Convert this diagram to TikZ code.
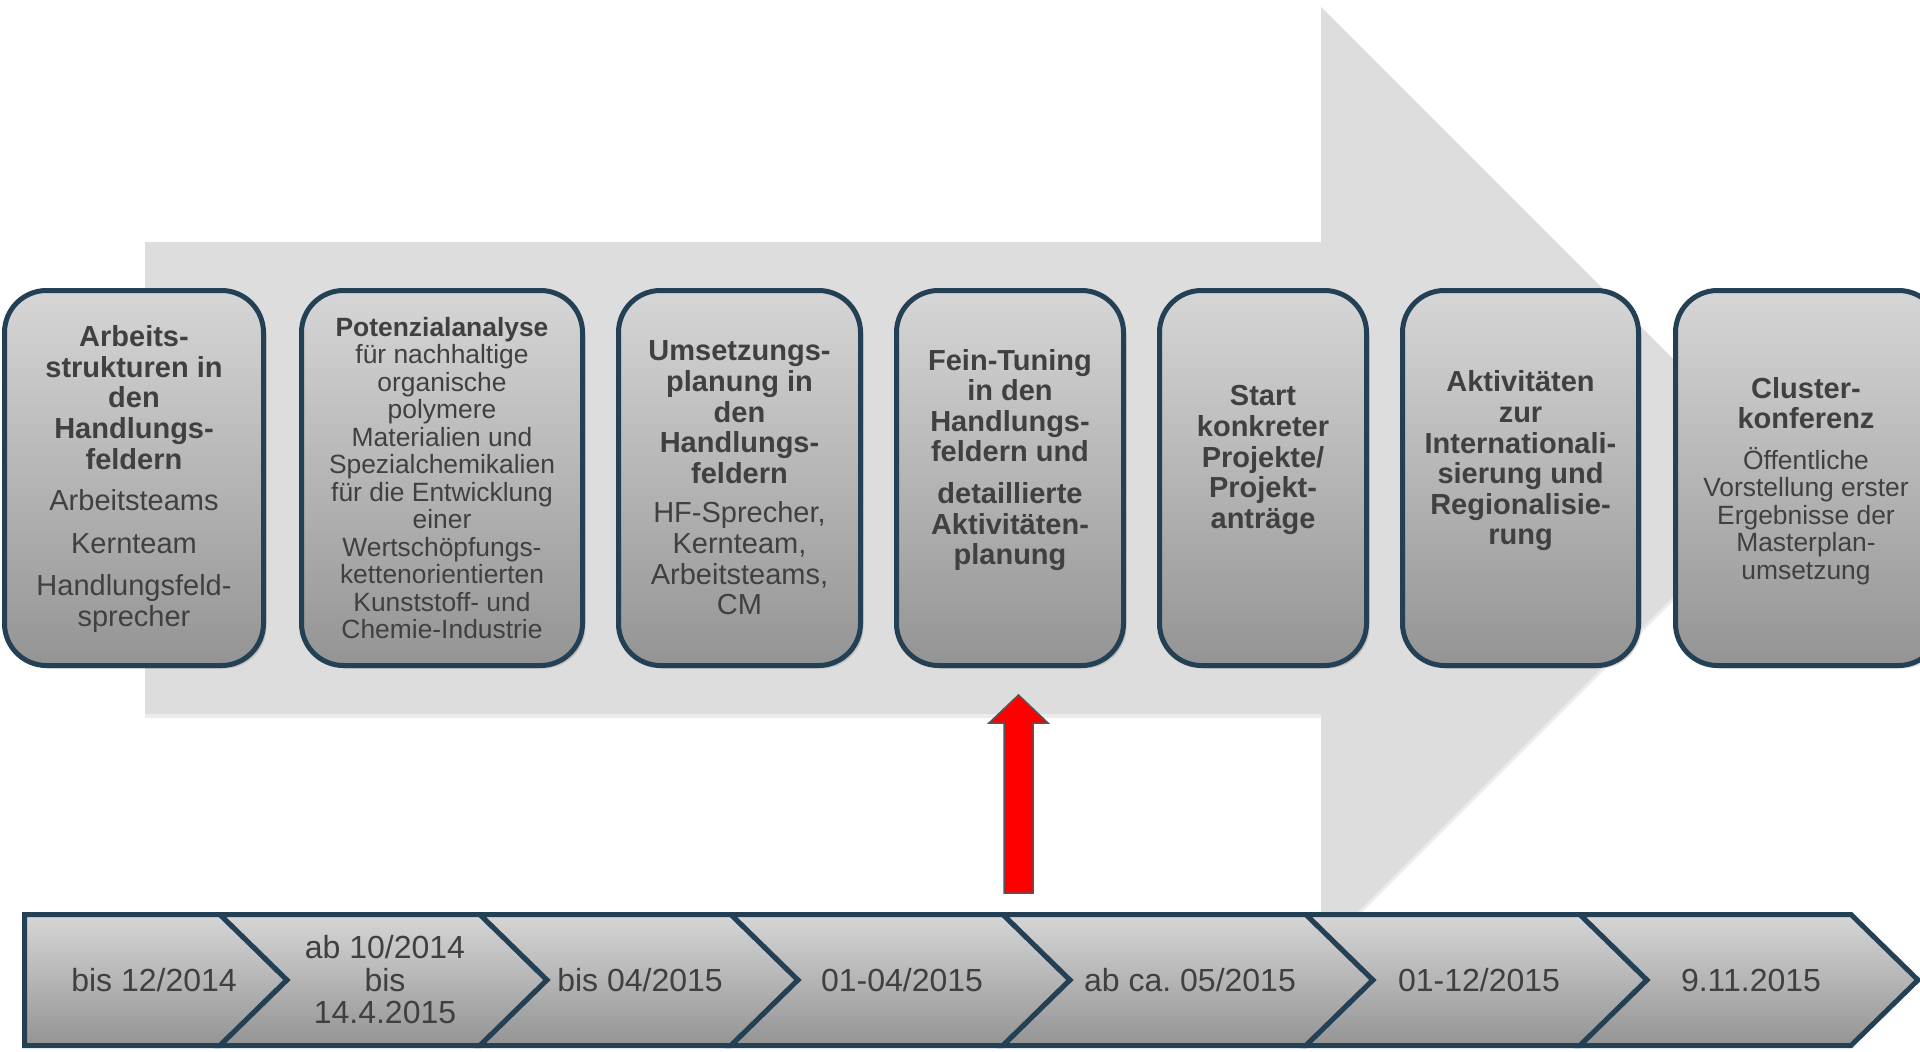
\documentclass[tikz,border=0pt]{standalone}
\usepackage{fontspec}
\setmainfont{Liberation Sans}
\usetikzlibrary{shadows}
\setlength\parindent{0pt}
\frenchspacing
\definecolor{arrowgray}{RGB}{221,221,221}
\definecolor{edgeblue}{RGB}{36,64,84}
\definecolor{txtgray}{RGB}{64,64,64}
\definecolor{gtop}{RGB}{214,214,214}
\definecolor{gbot}{RGB}{148,148,148}
\definecolor{redge}{RGB}{85,85,85}
\newcommand\phB{\fontsize{29}{30.6}\selectfont\bfseries\spaceskip=0pt\xspaceskip=0pt\relax}
\newcommand\phR{\fontsize{29}{30.6}\selectfont\mdseries\spaceskip=0pt\xspaceskip=0pt\relax}
\newcommand\phSR{\fontsize{26.4}{27.5}\selectfont\mdseries\spaceskip=0pt\xspaceskip=0pt\relax}
\newcommand\phSB{\fontsize{26.4}{27.5}\selectfont\bfseries\spaceskip=0pt\xspaceskip=0pt\relax}
\newcommand\tlR{\fontsize{32}{32.5}\selectfont}
\begin{document}
\begin{tikzpicture}[x=1pt,y=-1pt,
  phase/.style={draw=edgeblue, line width=5pt, rounded corners=42pt,
    top color=gtop, bottom color=gbot, minimum height=375pt, inner sep=0pt,
    drop shadow={shadow xshift=3pt, shadow yshift=-3pt, opacity=0.3}},
  ptext/.style={text=txtgray, align=flush center, inner sep=0pt, text width=250pt},
  seg/.style={draw=edgeblue, line width=5pt, top color=gtop, bottom color=gbot},
  ttext/.style={text=txtgray, align=center, inner sep=0pt, font=\tlR},
]
\useasboundingbox (0,0) rectangle (1920,1052);

% big background arrow
\path[fill=arrowgray, drop shadow={shadow xshift=0pt, shadow yshift=-4pt, opacity=0.15}]
  (145,242) -- (1321,242) -- (1321,7) -- (1792,478) -- (1321,949) -- (1321,714) -- (145,714) -- cycle;

% phase boxes
\node[phase, minimum width=259pt] (b1) at (134,478) {};
\node[phase, minimum width=281pt] (b2) at (442,478) {};
\node[phase, minimum width=242pt] (b3) at (739.5,478) {};
\node[phase, minimum width=227pt] (b4) at (1010,478) {};
\node[phase, minimum width=207pt] (b5) at (1263,478) {};
\node[phase, minimum width=236pt] (b6) at (1520.5,478) {};
\node[phase, minimum width=265pt] (b7) at (1808,478) {};

\node[ptext] (t1) at (134,479) {\phB Arbeits-\\strukturen in\\den\\Handlungs-\\feldern\par\vspace{11pt}\phR Arbeitsteams\\[12pt]Kernteam\\[12pt]Handlungsfeld-\\sprecher\par};
\node[ptext] (t2) at (442,478) {\phSB Potenzialanalyse\par\phSR für nachhaltige\\organische\\polymere\\Materialien und\\Spezialchemikalien\\für die Entwicklung\\einer\\Wertschöpfungs-\\kettenorientierten\\Kunststoff- und\\Chemie-Industrie\par};
\node[ptext] (t3) at (739.5,478) {\phB Umsetzungs-\\planung in\\den\\Handlungs-\\feldern\par\vspace{9pt}\phR HF-Sprecher,\\Kernteam,\\Arbeitsteams,\\CM\par};
\node[ptext] (t4) at (1010,460) {\phB Fein-Tuning\\in den\\Handlungs-\\feldern und\\[11pt]detaillierte\\Aktivitäten-\\planung\par};
\node[ptext] (t5) at (1263,460) {\phB Start\\konkreter\\Projekte/\\Projekt-\\anträge\par};
\node[ptext] (t6) at (1520.5,461) {\phB Aktivitäten\\zur\\Internationali-\\sierung und\\Regionalisie-\\rung\par};
\node[ptext] (t7) at (1806,481) {\phB Cluster-\\konferenz\par\vspace{13pt}\phSR Öffentliche\\Vorstellung erster\\Ergebnisse der\\Masterplan-\\umsetzung\par};

% red arrow
\draw[draw=redge, line width=1.5pt, fill=red]
  (1004,893) -- (1004,723) -- (989,723) -- (1018.5,695) -- (1048,723) -- (1033,723) -- (1033,893) -- cycle;

% timeline
\path[seg] (24.5,914.5) -- (220,914.5) -- (287,980) -- (220,1045.5) -- (24.5,1045.5) -- cycle;
\path[seg] (220,914.5) -- (480,914.5) -- (547,980) -- (480,1045.5) -- (220,1045.5) -- (287,980) -- cycle;
\path[seg] (480,914.5) -- (731,914.5) -- (798,980) -- (731,1045.5) -- (480,1045.5) -- (547,980) -- cycle;
\path[seg] (731,914.5) -- (1003,914.5) -- (1070,980) -- (1003,1045.5) -- (731,1045.5) -- (798,980) -- cycle;
\path[seg] (1003,914.5) -- (1306,914.5) -- (1373,980) -- (1306,1045.5) -- (1003,1045.5) -- (1070,980) -- cycle;
\path[seg] (1306,914.5) -- (1580,914.5) -- (1647,980) -- (1580,1045.5) -- (1306,1045.5) -- (1373,980) -- cycle;
\path[seg] (1580,914.5) -- (1851,914.5) -- (1918,980) -- (1851,1045.5) -- (1580,1045.5) -- (1647,980) -- cycle;

\node[ttext] (d1) at (154,980) {bis 12/2014};
\node[ttext] (d2) at (385,980) {ab 10/2014\\bis\\14.4.2015};
\node[ttext] (d3) at (640,980) {bis 04/2015};
\node[ttext] (d4) at (902,980) {01-04/2015};
\node[ttext] (d5) at (1190,980) {ab ca. 05/2015};
\node[ttext] (d6) at (1479,980) {01-12/2015};
\node[ttext] (d7) at (1751,980) {9.11.2015};
\end{tikzpicture}
\end{document}
